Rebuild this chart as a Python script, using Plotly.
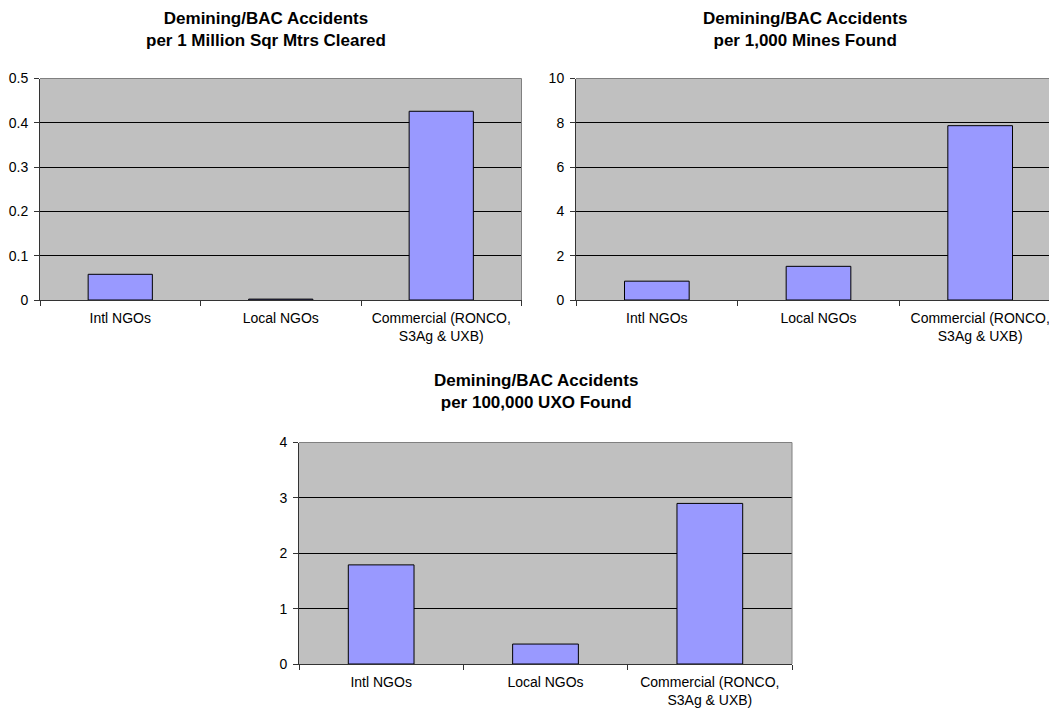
import plotly.graph_objects as go

categories = ["Intl NGOs", "Local NGOs", "Commercial (RONCO,<br>S3Ag & UXB)"]
per_million_sqm = [0.058, 0.002, 0.426]
per_1000_mines = [0.85, 1.52, 7.87]
per_100000_uxo = [1.79, 0.36, 2.90]

titles = [
    "Demining/BAC Accidents<br>per 1 Million Sqr Mtrs Cleared",
    "Demining/BAC Accidents<br>per 1,000 Mines Found",
    "Demining/BAC Accidents<br>per 100,000 UXO Found",
]
y_ranges = [[0, 0.5], [0, 10], [0, 4]]
y_dticks = [0.1, 2, 1]

W, H = 1057, 709
OFF = 8  # page body margin
# plot-area boxes in page pixels: (left, right, top, bottom)
boxes = [(40, 521.5, 78.5, 300), (576, 1061, 78.5, 300), (299, 792, 442.5, 664)]
title_pos = [(266, 30), (805, 30), (536, 391)]
right_border = [True, False, True]

fig = go.Figure()
series = [per_million_sqm, per_1000_mines, per_100000_uxo]
for i, vals in enumerate(series):
    n = "" if i == 0 else str(i + 1)
    fig.add_trace(go.Bar(
        x=categories, y=vals, xaxis="x" + n, yaxis="y" + n,
        marker=dict(color="#9999FF", line=dict(color="black", width=1)),
        showlegend=False, hoverinfo="x+y",
    ))
    l, r, t, b = [v - OFF for v in boxes[i]]
    fig.layout["xaxis" + n] = dict(
        domain=[l / W, min(r / W, 1)], anchor="y" + n, type="category", automargin=False,
        range=[-0.5, 2.5], tickson="boundaries", ticks="outside", ticklen=5,
        tickcolor="#333", showline=True, linecolor="#333", linewidth=1,
        showgrid=False, ticklabelstandoff=5,
        tickfont=dict(family="Arial, Liberation Sans", size=14, color="black"),
        fixedrange=True,
    )
    fig.layout["yaxis" + n] = dict(
        domain=[1 - b / H, 1 - t / H], anchor="x" + n, automargin=False,
        range=y_ranges[i], dtick=y_dticks[i], tick0=0, ticks="outside", ticklen=5,
        tickcolor="#333", showline=True, linecolor="#333", linewidth=1,
        showgrid=True, gridcolor="black", gridwidth=1, zeroline=False,
        ticklabelstandoff=3,
        tickfont=dict(family="Arial, Liberation Sans", size=14, color="black"),
        fixedrange=True,
    )
    # gray plot-area border at top and right
    fig.add_shape(type="line", xref="x" + n + " domain", yref="y" + n + " domain",
                  x0=0, x1=1, y0=1, y1=1, line=dict(color="#808080", width=1))
    if right_border[i]:
        fig.add_shape(type="line", xref="x" + n + " domain", yref="y" + n + " domain",
                      x0=1, x1=1, y0=0, y1=1, line=dict(color="#808080", width=1))
    tx, ty = title_pos[i]
    fig.add_annotation(text="<b>" + titles[i] + "</b>", xref="paper", yref="paper",
                       x=(tx - OFF) / W, y=1 - (ty - OFF) / H, xanchor="center", yanchor="middle",
                       showarrow=False, align="center",
                       font=dict(family="Arial, Liberation Sans", size=17, color="black"))

fig.update_layout(
    width=W, height=H, margin=dict(l=0, r=0, t=0, b=0, autoexpand=False),
    paper_bgcolor="white", plot_bgcolor="#C0C0C0",
    bargap=0.6,
)

fig.write_html("out.html")
